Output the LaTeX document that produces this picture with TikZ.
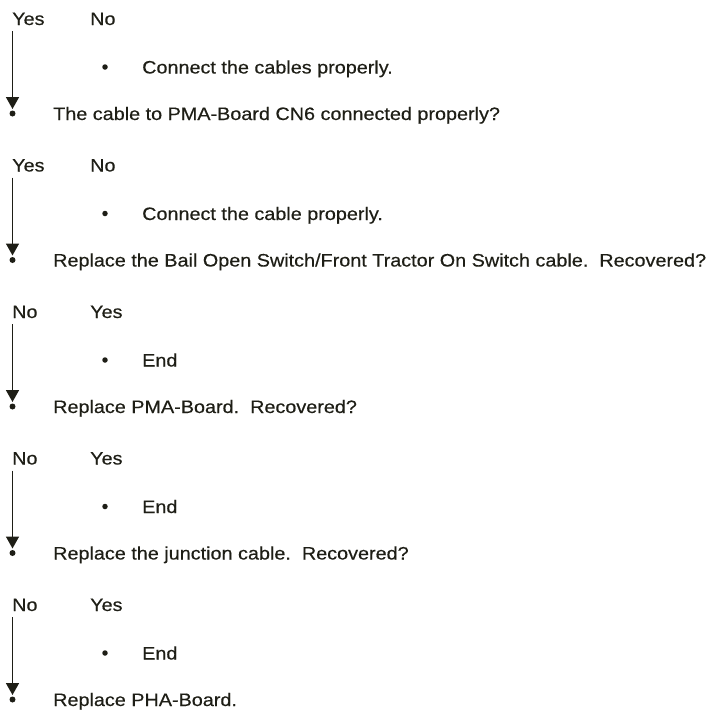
\documentclass[tikz,border=0pt]{standalone}
\usepackage{fontspec}
\setmainfont[FakeStretch=1.1,FakeBold=0.4]{Liberation Sans}
\usetikzlibrary{arrows.meta}
\definecolor{ink}{RGB}{30,30,22}
\tikzset{
  lbl/.style={anchor=base west, inner sep=0pt, font=\fontsize{18}{21}\selectfont, text=ink},
  flow/.style={draw=ink, line width=1.6pt, -{Triangle[length=12pt,width=13pt]}},
  tipdot/.style={circle, fill=ink, inner sep=0pt, minimum size=6pt},
  bulletdot/.style={circle, fill=ink, inner sep=0pt, minimum size=5.5pt}
}
\newcommand{\flowblock}[6]{%
  % #1 id, #2 offset, #3 left label, #4 right label, #5 bullet text, #6 question
  \node[lbl] (l#1) at (12,#2+25) {#3};
  \node[lbl] (r#1) at (90,#2+25) {#4};
  \node[bulletdot] (b#1) at (105,#2+67) {};
  \node[lbl] (t#1) at (142,#2+73.5) {#5};
  \node[lbl] (q#1) at (53,#2+120) {#6};
  \coordinate (s#1) at (12.5,#2+31);
  \coordinate (e#1) at (12.5,#2+109);
  \draw[flow] (s#1) -- (e#1);
  \node[tipdot] (d#1) at (12.5,#2+113.5) {};
}
\begin{document}
\begin{tikzpicture}[x=1pt,y=-1pt]
\useasboundingbox (0,0) rectangle (716,715);
\flowblock{1}{0}{Yes}{No}{Connect the cables properly.}{The cable to PMA-Board CN6 connected properly?}
\flowblock{2}{146.5}{Yes}{No}{Connect the cable properly.}{Replace the Bail Open Switch/Front Tractor On Switch cable.\ \ Recovered?}
\flowblock{3}{293}{No}{Yes}{End}{Replace PMA-Board.\ \ Recovered?}
\flowblock{4}{439.5}{No}{Yes}{End}{Replace the junction cable.\ \ Recovered?}
\flowblock{5}{586}{No}{Yes}{End}{Replace PHA-Board.}
\end{tikzpicture}
\end{document}
